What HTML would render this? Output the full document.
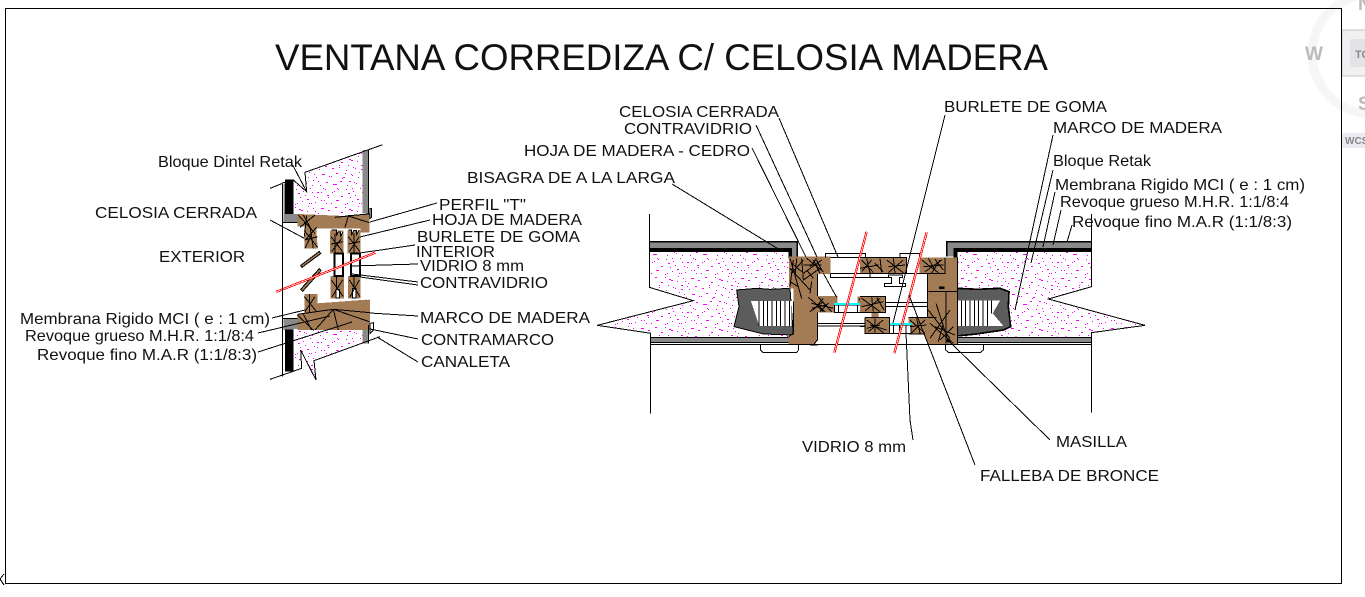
<!DOCTYPE html>
<html><head><meta charset="utf-8"><title>Ventana corrediza</title>
<style>
html,body{margin:0;padding:0;background:#fff;width:1365px;height:597px;overflow:hidden}
svg{display:block}
text{font-family:"Liberation Sans",sans-serif;font-size:16px;fill:#111}
.l path{stroke:#000;stroke-width:3;fill:none}
.s path{stroke:#000;stroke-width:3;fill:none}
.ln{stroke:#000;stroke-width:1;fill:none}
g.art *{shape-rendering:crispEdges}
</style></head><body>
<svg width="1365" height="597" viewBox="0 0 1365 597" xmlns="http://www.w3.org/2000/svg">
<defs>
<pattern id="d" patternUnits="userSpaceOnUse" width="150" height="150">
<g fill="#f0f" shape-rendering="crispEdges">
<rect x="3" y="6" width="3" height="3"/><rect x="21" y="15" width="6" height="3"/><rect x="42" y="3" width="3" height="3"/><rect x="63" y="18" width="3" height="3"/><rect x="84" y="9" width="6" height="3"/><rect x="105" y="15" width="3" height="3"/><rect x="126" y="6" width="3" height="3"/><rect x="141" y="21" width="3" height="3"/>
<rect x="12" y="30" width="3" height="3"/><rect x="33" y="39" width="3" height="3"/><rect x="51" y="30" width="6" height="3"/><rect x="75" y="42" width="3" height="3"/><rect x="96" y="33" width="3" height="3"/><rect x="117" y="39" width="3" height="3"/><rect x="135" y="36" width="3" height="3"/>
<rect x="3" y="54" width="3" height="3"/><rect x="24" y="60" width="3" height="3"/><rect x="45" y="51" width="3" height="3"/><rect x="66" y="66" width="3" height="3"/><rect x="87" y="57" width="6" height="3"/><rect x="111" y="63" width="3" height="3"/><rect x="129" y="54" width="3" height="3"/><rect x="144" y="69" width="3" height="3"/>
<rect x="15" y="78" width="6" height="3"/><rect x="36" y="84" width="3" height="3"/><rect x="57" y="75" width="3" height="3"/><rect x="78" y="90" width="3" height="3"/><rect x="99" y="81" width="3" height="3"/><rect x="123" y="87" width="6" height="3"/><rect x="141" y="78" width="3" height="3"/>
<rect x="6" y="102" width="3" height="3"/><rect x="27" y="108" width="3" height="3"/><rect x="48" y="99" width="3" height="3"/><rect x="69" y="111" width="6" height="3"/><rect x="93" y="102" width="3" height="3"/><rect x="114" y="111" width="3" height="3"/><rect x="132" y="102" width="3" height="3"/>
<rect x="18" y="126" width="3" height="3"/><rect x="39" y="132" width="6" height="3"/><rect x="60" y="123" width="3" height="3"/><rect x="81" y="135" width="3" height="3"/><rect x="102" y="126" width="3" height="3"/><rect x="126" y="135" width="3" height="3"/><rect x="144" y="123" width="3" height="3"/><rect x="9" y="144" width="3" height="3"/><rect x="51" y="144" width="3" height="3"/><rect x="96" y="144" width="3" height="3"/>
</g></pattern>
<pattern id="e" href="#d" patternTransform="translate(72,45)"/>
</defs>
<rect width="1365" height="597" fill="#fff"/>

<!-- viewer chrome -->
<circle cx="1372" cy="54" r="60" fill="none" stroke="#f6f6f6" stroke-width="9"/>
<text x="1305" y="60" style="font-size:19px;font-weight:bold;fill:#bbb">W</text>
<rect x="1342" y="30" width="30" height="46" fill="#f0f0f0" stroke="#c4c4c4"/>
<rect x="1350" y="39" width="20" height="28" fill="#e2e3e6"/>
<text x="1355" y="58" style="font-size:11px;font-weight:bold;fill:#888">TO</text>
<text x="1358" y="110" style="font-size:19px;font-weight:bold;fill:#bbb">S</text>
<text x="1358" y="10" style="font-size:19px;font-weight:bold;fill:#bbb">N</text>
<rect x="1342" y="133" width="30" height="15" fill="#e9eaf2"/>
<text x="1345" y="144" style="font-size:10px;font-weight:bold;fill:#888">WCS</text>

<g class="art">
<rect x="5.5" y="8.5" width="1336" height="575" fill="none" stroke="#000"/>
<path d="M4 574L0 579L4 585" fill="none" stroke="#000"/>

<!-- LEFT DETAIL -->
<g transform="translate(270,140) scale(.333333)">
<polygon points="70,120 110,155 105,97 278,30 278,222 70,222" fill="url(#d)"/>
<polygon points="70,120 110,155 105,97 278,30 278,222 70,222" fill="url(#e)"/>
<path d="M45 118H70V222H45Z" fill="#000"/>
<path d="M40 130H45V222H82V247H40Z" fill="#8a8a8a"/>
<path d="M278 30H295V220H278Z" fill="#8a8a8a"/>
<path d="M40 535H82V567H70V695H45V570H40Z" fill="#8a8a8a"/>
<path d="M45 568H70V695H45Z" fill="#000"/>
<polygon points="70,567 278,567 278,610 132,662 138,720 92,630 95,685 70,695" fill="url(#d)"/>
<polygon points="70,567 278,567 278,610 132,662 138,720 92,630 95,685 70,695" fill="url(#e)"/>
<path d="M278 555H296V610H278Z" fill="#8a8a8a"/>
<g fill="#a37c55">
<polygon points="82,222 225,228 298,222 298,278 272,278 272,265 140,265 140,282 143,325 103,325 103,260 82,260"/>
<rect x="180" y="272" width="40" height="68"/><rect x="232" y="272" width="40" height="68"/>
<rect x="182" y="408" width="40" height="68"/><rect x="234" y="408" width="38" height="68"/>
<polygon points="103,462 143,462 143,490 300,478 300,570 82,570 82,523 103,518"/>
</g>
<g fill="#fff" stroke="#000" stroke-width="6">
<rect x="193" y="340" width="26" height="68"/><rect x="243" y="340" width="27" height="68"/>
</g>
<path d="M185 270h14v18l5-12h8v14l6-14M235 270h10v16l6-14h8v14l8-16" fill="#fff" stroke="#000" stroke-width="3"/>
<rect x="198" y="448" width="10" height="26" fill="#fff" stroke="#000" stroke-width="3"/>
<rect x="248" y="446" width="10" height="28" fill="#fff" stroke="#000" stroke-width="3"/>
<g fill="#a37c55" stroke="#000" stroke-width="3">
<polygon points="92,376 148,334 152,341 96,382"/>
<polygon points="92,448 148,386 153,392 98,454"/>
</g>
<path d="M18 456L316 338" stroke="#f00" stroke-width="7" fill="none"/>
<path d="M18 456L316 338" stroke="#fff" stroke-width="2" fill="none"/>
<g class="s">
<path d="M85 225L135 280M100 225L125 270M135 225L90 262M110 226L103 290M103 272L143 322M125 282L105 325M140 262L105 300M103 300L143 290M120 260L130 325"/>
<path d="M195 232L235 228L225 262M225 228L298 222M235 228L298 248"/>
<path d="M183 290L218 335M215 295L185 335M195 280V340M183 312L218 305M235 290L270 335M268 290L238 335M252 280V340M235 312L270 305"/>
<path d="M184 420L220 470M218 420L186 470M200 410V445M238 420L270 470M268 420L240 470M252 410V445"/>
<path d="M103 470L140 515M135 470L105 515M118 462V518"/>
<path d="M82 523L190 508L300 518M190 508L205 570M190 508L298 545M125 570L100 523M190 508L135 570M82 525L130 570"/>
</g>
<path d="M150 480L300 478" stroke="#fff" stroke-width="3" stroke-dasharray="5 5" fill="none"/>
<g class="l">
<path d="M38 130V710"/>
<path d="M0 145L38 130"/>
<path d="M70 120L110 155L105 97L338 14"/>
<path d="M0 718L95 685L92 630L138 720L132 662L330 590"/>
<path d="M295 30V222"/>
<path d="M296 555V610"/>
<path d="M38 128H70M38 247H82M38 535H82"/>
<path d="M300 205V235L305 232V205ZM300 550V580L310 570V548Z"/>
<path d="M68 75L110 155"/>
<path d="M0 240L103 295"/>
</g>
</g>

<!-- RIGHT DETAIL LEFT HALF -->
<g transform="translate(590,210) scale(.333333)">
<path d="M178 95H622V140H605V114H178Z" fill="#8a8a8a"/>
<polygon points="180,126 595,126 595,382 183,382 183,370 22,346 310,272 178,232" fill="url(#d)"/>
<polygon points="180,126 595,126 595,382 183,382 183,370 22,346 310,272 178,232" fill="url(#e)"/>
<path d="M178 114H606V145H595V126H178Z" fill="#000"/>
<path d="M183 382H596V398H183Z" fill="#8a8a8a"/>
<polygon points="440,240 500,235 540,238 600,235 610,375 520,372 432,350 447,290" fill="#5c5c5c" stroke="#000" stroke-width="3"/>
<polygon points="483,273 605,273 605,348 508,348" fill="#fff"/>
<path d="M507 273V348M520 273V348M533 273V348M546 273V348M559 273V348M572 273V348M585 273V348M598 273V348" stroke="#000" stroke-width="3"/>
<polygon points="597,140 722,140 722,192 682,192 682,258 742,258 742,308 682,308 682,390 672,403 596,403 596,375 610,375 610,235 597,235" fill="#a37c55"/>
<path d="M682 192V258M682 308V390L672 403" stroke="#000" stroke-width="3" fill="none"/>
<path d="M596 380L610 370V275" stroke="#000" stroke-width="3" fill="none"/>
<rect x="660" y="402" width="22" height="4" fill="#000"/>
<rect x="810" y="145" width="30" height="45" fill="#a37c55"/>
<rect x="803" y="260" width="37" height="46" fill="#a37c55"/>
<rect x="826" y="322" width="14" height="48" fill="#a37c55"/>
<g class="l">
<path d="M178 12V232L310 272L22 346L183 370M181 370V610"/>
<path d="M622 140V95H178" style="stroke-width:5"/>
<path d="M183 382H596M183 398H596M183 403H840"/>
<path d="M512 403V420L518 427H620L626 420V403"/>
<path d="M706 142V130H827V142M722 142H827M722 190H840V203H722V190"/>
<path d="M682 340H840M682 348H840"/>
<path d="M700 190L740 262"/>
</g>
<path d="M733 285H813V307H733Z" fill="#fff" stroke="#000" stroke-width="3"/>
<path d="M745 285V307M803 285V307" stroke="#000" stroke-width="3"/>
<rect x="732" y="279" width="82" height="6" fill="#0ff"/>
<g class="s">
<path d="M600 145L635 265M605 190L640 150M600 175L660 240M635 145L640 210L690 175M650 145L700 185M640 190L695 150M600 215L625 230M610 150L600 230M660 170L680 145M665 215L660 250M670 150L690 190M640 165L695 165M605 160L635 185M650 180L670 205M620 145L615 200M680 150L695 180"/>
<path d="M655 262L705 305M660 305L700 275M685 262L725 305M700 265L670 300M665 280L730 295M680 285L700 305M715 280L690 305M665 295L710 285"/>
<path d="M812 148L838 185M835 150L812 188M812 170L840 165M825 145V190"/>
<path d="M806 265L838 302M836 268L810 303M820 260V305"/>
<path d="M828 330L840 360M838 330L828 362"/>
</g>
<path d="M830 65L733 428" stroke="#f00" stroke-width="7" fill="none"/>
<path d="M830 65L733 428" stroke="#fff" stroke-width="2" fill="none"/>
</g>

<!-- RIGHT DETAIL RIGHT HALF -->
<g transform="translate(860,210) scale(.333333)">
<path d="M260 95H695V114H280V140H260Z" fill="#8a8a8a"/>
<polygon points="293,126 695,126 695,230 565,267 855,346 695,368 695,380 293,380" fill="url(#d)"/>
<polygon points="293,126 695,126 695,230 565,267 855,346 695,368 695,380 293,380" fill="url(#e)"/>
<path d="M280 114H695V126H293V145H280Z" fill="#000"/>
<path d="M293 382H695V398H293Z" fill="#8a8a8a"/>
<polygon points="280,260 295,235 350,238 420,235 447,245 445,290 452,350 430,360 350,372 290,378 280,350" fill="#5c5c5c" stroke="#000" stroke-width="5"/>
<polygon points="280,272 420,272 398,310 430,348 280,348" fill="#fff"/>
<path d="M291 272V348M304 272V348M317 272V348M330 272V348M343 272V348M356 272V348M369 272V348M382 272V348M395 272V310" stroke="#000" stroke-width="3"/>
<g fill="#a37c55">
<rect x="0" y="143" width="140" height="47"/><rect x="178" y="143" width="80" height="47"/>
<polygon points="250,143 293,143 293,403 205,403 190,372 145,372 145,322 203,322 203,190 250,190"/>
<rect x="0" y="260" width="77" height="47"/>
<rect x="15" y="322" width="73" height="48"/>
<rect x="35" y="308" width="20" height="16"/>
</g>
<g class="l">
<path d="M0 143H140V190H0M178 190H255V143M0 190H203M0 203H85"/>
<path d="M120 143V130H178V143"/>
<path d="M85 195H128V203H118V220H137V230H73V220H95V203H85Z"/>
<path d="M0 260H77V307H0M77 277H203M77 290H203"/>
<path d="M0 340H15M0 350H15M15 322V370H88V322H15"/>
<path d="M203 190V322M145 322H230M145 372H190"/>
<path d="M293 143V403M0 403H695M293 382H695M293 398H695"/>
<path d="M260 140V95H695" style="stroke-width:5"/>
<path d="M257 403V420L265 427H362L370 420V403"/>
<path d="M695 12V230L565 267L855 346L695 368V607"/>
</g>
<rect x="237" y="229" width="17" height="8" fill="#000"/>
<path d="M88 345H153V370H88Z" fill="#fff" stroke="#000" stroke-width="3"/>
<path d="M100 345V370M118 345V370M138 345V370" stroke="#000" stroke-width="3"/>
<rect x="90" y="339" width="64" height="6" fill="#0ff"/>
<g class="s">
<path d="M5 150L40 188M35 150L5 185M60 145L65 188M80 150L130 188M130 150L85 188M100 145L105 190M0 175L55 165M20 145L30 190M85 170L135 165M45 160L70 185"/>
<path d="M185 150L235 188M245 150L195 185M205 145L225 180M190 170L250 165M225 148L250 180M215 190L240 150"/>
<path d="M5 265L60 305M60 265L15 303M35 262L40 305M5 290L70 275M50 262L72 300"/>
<path d="M20 330L70 368M70 330L25 365M20 355L60 345M45 325V368M30 345L80 360"/>
<path d="M150 330L195 370M195 330L155 368M170 325L180 370M150 350L200 345"/>
<path d="M205 300L270 385M270 300L210 385M228 280L265 395M258 245V400M205 245L293 245M210 340L280 400M240 390L280 350M225 350L285 375M250 340L235 395"/>
</g>
<circle cx="266" cy="392" r="6" fill="#000"/>
<path d="M20 65L0 140" stroke="#f00" stroke-width="7" fill="none"/>
<path d="M20 65L0 140" stroke="#fff" stroke-width="2" fill="none"/>
<path d="M200 67L103 430" stroke="#f00" stroke-width="7" fill="none"/>
<path d="M200 67L103 430" stroke="#fff" stroke-width="2" fill="none"/>
</g>

<!-- Leaders (page coordinates) -->
<g class="ln">
<path d="M370 222L437 203M360 237L430 220M360 253L415 245M350 266L418 264M352 274L418 282M360 277L418 285M370 313L418 316M370 329L418 339M377 337L418 362"/>
<path d="M272 318L305 310M258 333L330 316M258 352L352 322"/>
<path d="M779 118L838 257M756 125L817 257M752 148L806 257M672 184L780 250"/>
<path d="M945 115L893 323M1053 135L1015 310M1053 170L1031 263M1055 192L1043 247M1061 210L1053 245M1072 225L1067 242"/>
<path d="M906 333L910 420L913 440M909 295L975 465M950 342L1050 440"/>
</g>
</g>

<!-- labels -->
<text x="275" y="70" textLength="773" lengthAdjust="spacingAndGlyphs" style="font-size:37px">VENTANA CORREDIZA C/ CELOSIA MADERA</text>
<text x="158" y="167" textLength="144" lengthAdjust="spacingAndGlyphs">Bloque Dintel Retak</text>
<text x="95" y="218" textLength="162" lengthAdjust="spacingAndGlyphs">CELOSIA CERRADA</text>
<text x="159" y="262" textLength="86" lengthAdjust="spacingAndGlyphs">EXTERIOR</text>
<text x="439" y="210" textLength="87" lengthAdjust="spacingAndGlyphs">PERFIL "T"</text>
<text x="432" y="225" textLength="150" lengthAdjust="spacingAndGlyphs">HOJA DE MADERA</text>
<text x="417" y="242" textLength="163" lengthAdjust="spacingAndGlyphs">BURLETE DE GOMA</text>
<text x="416" y="257" textLength="79" lengthAdjust="spacingAndGlyphs">INTERIOR</text>
<text x="420" y="271" textLength="104" lengthAdjust="spacingAndGlyphs">VIDRIO 8 mm</text>
<text x="420" y="288" textLength="128" lengthAdjust="spacingAndGlyphs">CONTRAVIDRIO</text>
<text x="420" y="323" textLength="170" lengthAdjust="spacingAndGlyphs">MARCO DE MADERA</text>
<text x="421" y="345" textLength="133" lengthAdjust="spacingAndGlyphs">CONTRAMARCO</text>
<text x="421" y="367" textLength="89" lengthAdjust="spacingAndGlyphs">CANALETA</text>
<text x="20" y="324" textLength="250" lengthAdjust="spacingAndGlyphs">Membrana Rigido MCI ( e : 1 cm)</text>
<text x="25" y="341" textLength="229" lengthAdjust="spacingAndGlyphs">Revoque grueso M.H.R. 1:1/8:4</text>
<text x="37" y="360" textLength="220" lengthAdjust="spacingAndGlyphs">Revoque fino M.A.R (1:1/8:3)</text>
<text x="619" y="117" textLength="160" lengthAdjust="spacingAndGlyphs">CELOSIA CERRADA</text>
<text x="624" y="134" textLength="128" lengthAdjust="spacingAndGlyphs">CONTRAVIDRIO</text>
<text x="524" y="156" textLength="226" lengthAdjust="spacingAndGlyphs">HOJA DE MADERA - CEDRO</text>
<text x="467" y="183" textLength="208" lengthAdjust="spacingAndGlyphs">BISAGRA DE A LA LARGA</text>
<text x="944" y="112" textLength="163" lengthAdjust="spacingAndGlyphs">BURLETE DE GOMA</text>
<text x="1053" y="133" textLength="169" lengthAdjust="spacingAndGlyphs">MARCO DE MADERA</text>
<text x="1053" y="166" textLength="98" lengthAdjust="spacingAndGlyphs">Bloque Retak</text>
<text x="1055" y="190" textLength="250" lengthAdjust="spacingAndGlyphs">Membrana Rigido MCI ( e : 1 cm)</text>
<text x="1060" y="207" textLength="229" lengthAdjust="spacingAndGlyphs">Revoque grueso M.H.R. 1:1/8:4</text>
<text x="1072" y="227" textLength="220" lengthAdjust="spacingAndGlyphs">Revoque fino M.A.R (1:1/8:3)</text>
<text x="802" y="452" textLength="104" lengthAdjust="spacingAndGlyphs">VIDRIO 8 mm</text>
<text x="1056" y="447" textLength="71" lengthAdjust="spacingAndGlyphs">MASILLA</text>
<text x="980" y="481" textLength="179" lengthAdjust="spacingAndGlyphs">FALLEBA DE BRONCE</text>
</svg>
</body></html>
